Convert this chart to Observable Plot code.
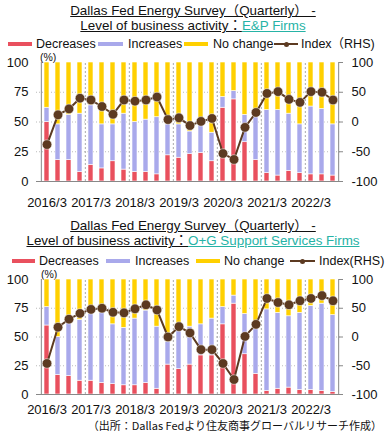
<!DOCTYPE html>
<html><head><meta charset="utf-8">
<script src="https://cdn.jsdelivr.net/npm/d3@7"></script>
<script src="https://cdn.jsdelivr.net/npm/@observablehq/plot@0.6"></script>
<style>
body{margin:0;background:#fff;}
#wrap{position:relative;width:388px;height:433px;font-family:"Liberation Sans",Arial,"Noto Sans CJK JP",sans-serif;color:#111;overflow:hidden;background:#fff}
.t{position:absolute;left:0;width:386px;text-align:center;font-size:13.4px;line-height:15px;white-space:nowrap}
.u{text-decoration:underline}
.teal{color:#26b3a6;text-decoration:underline}
.lt{position:absolute;font-size:12.5px;line-height:10px;white-space:nowrap}
.sw{position:absolute;height:4px}
.dot{position:absolute;width:5px;height:5px;border-radius:50%;background:#5C3A21}
.pct{position:absolute;font-size:10.5px;line-height:9px}
.plot{position:absolute;left:0}
.cap{position:absolute;right:6px;font-size:11px;line-height:10px;white-space:nowrap;font-family:"Noto Sans CJK JP",sans-serif}
</style></head>
<body><div id="wrap">
<div class="t" style="top:3px"><span class="u">Dallas Fed Energy Survey（Quarterly） -</span></div>
<div class="t" style="top:18px"><span class="u">Level of business activity：</span><span class="teal">E&amp;P Firms</span></div>
<div class="pct" style="left:40px;top:53px">(%)</div>
<div class="plot" id="p1" style="top:50px"></div>
<div class="t" style="top:218px"><span class="u">Dallas Fed Energy Survey（Quarterly） -</span></div>
<div class="t" style="top:233px"><span class="u">Level of business activity：</span><span class="teal">O+G Support Services Firms</span></div>
<div class="pct" style="left:41px;top:270px">(%)</div>
<div class="plot" id="p2" style="top:267px"></div>
<div class="cap" style="top:420px">（出所：Dallas Fedより住友商事グローバルリサーチ作成）</div>
</div>
<script>
const quarters = ["2016/3","2016/6","2016/9","2016/12","2017/3","2017/6","2017/9","2017/12","2018/3","2018/6","2018/9","2018/12","2019/3","2019/6","2019/9","2019/12","2020/3","2020/6","2020/9","2020/12","2021/3","2021/6","2021/9","2021/12","2022/3","2022/6","2022/9"];
const tickLabels = ["2016/3","2017/3","2018/3","2019/3","2020/3","2021/3","2022/3"];
const leftTicks = [0,25,50,75,100];
const rightTickLabels = ["-100","-50","0","50","100"];
const seriesNames = ["Decreases","Increases","No change"];
const seriesColors = ["#E9505E","#A9A9EB","#FFD000"];

const epDecreases = [50,18,18,8,14,11,17,10,8,8,6,22,20,23,24,17,62,69,33,18,7,5,9,7,6,6,5];
const epIncreases = [12,30,38,49,50,37,31,47,42,44,48,26,28,19,29,24,9,7,23,36,53,55,48,41,57,55,43];
const epNoChange  = [38,52,44,43,36,52,52,43,50,48,46,52,52,58,47,59,29,24,44,46,40,40,43,52,37,39,52];
const epIndex     = [-38,12,22,40,37,26,13,37,35,37,42,4,7,-6,1,6,-53,-63,-9,16,48,51,38,33,51,50,37];

const ogDecreases = [60,17,16,12,12,10,9,8,8,10,5,26,22,26,34,34,61,79,35,18,3,5,6,4,4,3,2];
const ogIncreases = [16,33,46,53,58,61,52,50,58,63,54,20,33,33,27,32,15,7,35,39,71,66,62,67,73,76,67];
const ogNoChange  = [24,50,38,35,30,29,39,42,34,27,41,54,45,41,39,34,24,14,30,43,26,29,32,29,23,21,31];
const ogIndex     = [-46,17,31,41,48,50,43,42,49,56,47,0,18,7,-22,-22,-46,-74,1,22,67,60,56,63,67,72,63];

const wrap = document.getElementById("wrap");
function legend(y, items, idxLabel) {
  items.forEach((it, i) => {
    const sw = document.createElement("div");
    sw.className = "sw";
    sw.style.left = it[0] + "px"; sw.style.width = (it[1]-it[0]) + "px";
    if (i < 3) { sw.style.top = (y-2) + "px"; sw.style.background = seriesColors[i]; }
    else { sw.style.top = (y-1) + "px"; sw.style.height = "2px"; sw.style.background = "#5C3A21";
      const d = document.createElement("div"); d.className = "dot";
      d.style.left = ((it[0]+it[1])/2 - 2.5) + "px"; d.style.top = (y-2.5) + "px"; wrap.appendChild(d); }
    wrap.appendChild(sw);
    const t = document.createElement("div");
    t.className = "lt"; t.style.left = it[2] + "px"; t.style.top = (y-5) + "px";
    t.textContent = i < 3 ? seriesNames[i] : idxLabel;
    wrap.appendChild(t);
  });
}
legend(44, [[8,32,36],[98,123,128],[184,208,213],[274,298,301]], "Index（RHS)");
legend(261, [[12,35,39],[106,130,135],[196,220,224],[290,315,319]], "Index(RHS)");

function panel(dec, inc, nc, idx, height, marginBottom, xPad) {
  const rows = [];
  quarters.forEach((q, i) => {
    rows.push({q, s: seriesNames[0], v: dec[i]}, {q, s: seriesNames[1], v: inc[i]}, {q, s: seriesNames[2], v: nc[i]});
  });
  const pts = quarters.map((q, i) => ({q, idx: idx[i]}));
  const W = 388, ml = 36, mr = 46;
  const step = (W - ml - mr) / quarters.length;
  const yearStarts = quarters.filter((q, i) => q.endsWith("/3") && i > 0);
  const yIdx = d => (d.idx + 100) / 2;
  return Plot.plot({
    width: W, height, marginLeft: ml, marginRight: mr, marginTop: 12, marginBottom,
    style: {fontSize: "13px", fontFamily: "'Liberation Sans', Arial, sans-serif", color: "#111", background: "transparent", overflow: "visible"},
    x: {type: "band", domain: quarters, padding: 0, axis: null},
    y: {domain: [0, 100], axis: null},
    color: {domain: seriesNames, range: seriesColors},
    marks: [
      Plot.gridY([25, 50, 75], {stroke: "#bbb", strokeOpacity: 1, strokeDasharray: "1,2"}),
      Plot.ruleX(yearStarts, {dx: -step/2, y1: 0, y2: 100, stroke: "#aaa", strokeDasharray: "2,2"}),
      Plot.barY(rows, Plot.stackY({order: seriesNames}, {x: "q", y: "v", fill: "s", insetLeft: 3, insetRight: 3, stroke: "#fff", strokeWidth: 0.6})),
      Plot.ruleY([0], {stroke: "#888"}),
      Plot.ruleX([quarters[0]], {dx: -step/2, y1: 0, y2: 100, stroke: "#888"}),
      Plot.ruleX([quarters[quarters.length-1]], {dx: step/2, y1: 0, y2: 100, stroke: "#888"}),
      Plot.line(pts, {x: "q", y: yIdx, stroke: "#5C3A21", strokeWidth: 2}),
      Plot.dot(pts, {x: "q", y: yIdx, r: 4.8, fill: "#5C3A21", stroke: "#fff", strokeWidth: 0.5}),
      Plot.axisY({anchor: "left", ticks: leftTicks, tickSize: 0, tickPadding: 8, label: null}),
      Plot.axisY({anchor: "right", ticks: leftTicks, tickFormat: d => rightTickLabels[leftTicks.indexOf(d)], tickSize: 4, insetRight: 4, tickPadding: 9, stroke: "#888", label: null}),
      Plot.axisX({ticks: tickLabels, tickSize: 0, tickPadding: xPad, label: null})
    ]
  });
}
document.getElementById("p1").appendChild(panel(epDecreases, epIncreases, epNoChange, epIndex, 160, 29, 16));
document.getElementById("p2").appendChild(panel(ogDecreases, ogIncreases, ogNoChange, ogIndex, 155, 28, 10));
</script>
</body></html>
